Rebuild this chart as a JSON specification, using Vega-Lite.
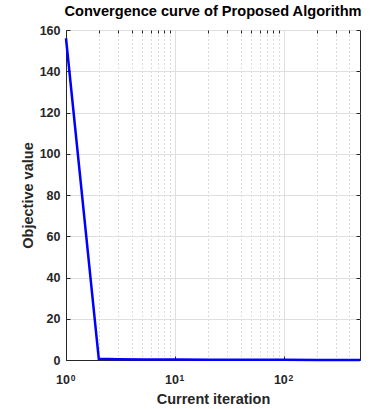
{
  "$schema": "https://vega.github.io/schema/vega-lite/v6.json",
  "width": 294,
  "height": 330,
  "autosize": {"type": "none"},
  "padding": {"left": 66, "top": 30, "right": 11, "bottom": 49},
  "background": "white",
  "title": {
    "text": "Convergence curve of Proposed Algorithm",
    "font": "Liberation Sans",
    "fontSize": 14.6,
    "fontWeight": "bold",
    "color": "#000000",
    "offset": 5,
    "anchor": "middle"
  },
  "config": {
    "view": {"stroke": "#262626", "strokeWidth": 1},
    "axis": {
      "labelFont": "Liberation Sans",
      "labelFontSize": 12.5,
      "labelFontWeight": "bold",
      "labelColor": "#262626",
      "labelFlush": false,
      "titleFont": "Liberation Sans",
      "titleFontSize": 14.5,
      "titleFontWeight": "bold",
      "titleColor": "#262626",
      "domainColor": "#262626",
      "tickColor": "#262626",
      "gridColor": "#dfdfdf",
      "gridOpacity": 1
    }
  },
  "data": {
    "values": [
      {"iter": 1, "obj": 156},
      {"iter": 2, "obj": 0.6},
      {"iter": 3, "obj": 0.4},
      {"iter": 5, "obj": 0.3},
      {"iter": 10, "obj": 0.2},
      {"iter": 20, "obj": 0.15},
      {"iter": 50, "obj": 0.1},
      {"iter": 100, "obj": 0.08},
      {"iter": 200, "obj": 0.05},
      {"iter": 500, "obj": 0.03}
    ]
  },
  "resolve": {"axis": {"x": "independent", "y": "independent"}},
  "layer": [
    {
      "mark": {"type": "line", "opacity": 0},
      "encoding": {
        "x": {
          "field": "iter",
          "type": "quantitative",
          "scale": {"type": "log", "domain": [1, 500], "nice": false},
          "axis": {
            "orient": "top",
            "values": [2, 3, 4, 5, 6, 7, 8, 9, 20, 30, 40, 50, 60, 70, 80, 90, 200, 300, 400],
            "labels": false,
            "domain": false,
            "ticks": true,
            "tickSize": -3,
            "title": null,
            "grid": true,
            "gridDash": [1, 3],
            "gridColor": "#b8b8b8"
          }
        },
        "y": {
          "field": "obj",
          "type": "quantitative",
          "scale": {"domain": [0, 160], "nice": false},
          "axis": {
            "orient": "right",
            "values": [0, 20, 40, 60, 80, 100, 120, 140, 160],
            "labels": false,
            "domain": false,
            "tickSize": -4,
            "title": null,
            "grid": false
          }
        }
      }
    },
    {
      "mark": {"type": "line", "opacity": 0},
      "encoding": {
        "x": {
          "field": "iter",
          "type": "quantitative",
          "scale": {"type": "log", "domain": [1, 500], "nice": false},
          "axis": {
            "orient": "bottom",
            "values": [1, 10, 100],
            "labelExpr": "datum.value == 1 ? '0' : datum.value == 10 ? '1' : '2'",
            "labelFontSize": 8.5,
            "labelBaseline": "alphabetic",
            "labelOffset": 6.5,
            "labelPadding": 20,
            "domain": false,
            "ticks": false,
            "tickSize": -4,
            "title": null,
            "grid": false
          }
        },
        "y": {
          "field": "obj",
          "type": "quantitative",
          "scale": {"domain": [0, 160], "nice": false},
          "axis": null
        }
      }
    },
    {
      "mark": {"type": "line", "color": "#0000ff", "strokeWidth": 2.5},
      "encoding": {
        "x": {
          "field": "iter",
          "type": "quantitative",
          "scale": {"type": "log", "domain": [1, 500], "nice": false},
          "axis": {
            "orient": "bottom",
            "values": [1, 10, 100],
            "labelExpr": "'10'",
            "labelFontSize": 12.5,
            "labelBaseline": "alphabetic",
            "labelOffset": -3.5,
            "tickSize": -4,
            "labelPadding": 27.5,
            "title": "Current iteration",
            "titlePadding": 6,
            "grid": true
          }
        },
        "y": {
          "field": "obj",
          "type": "quantitative",
          "scale": {"domain": [0, 160], "nice": false},
          "axis": {
            "orient": "left",
            "values": [0, 20, 40, 60, 80, 100, 120, 140, 160],
            "tickSize": -4,
            "labelPadding": 10,
            "title": "Objective value",
            "titlePadding": 4,
            "grid": true
          }
        }
      }
    }
  ]
}
